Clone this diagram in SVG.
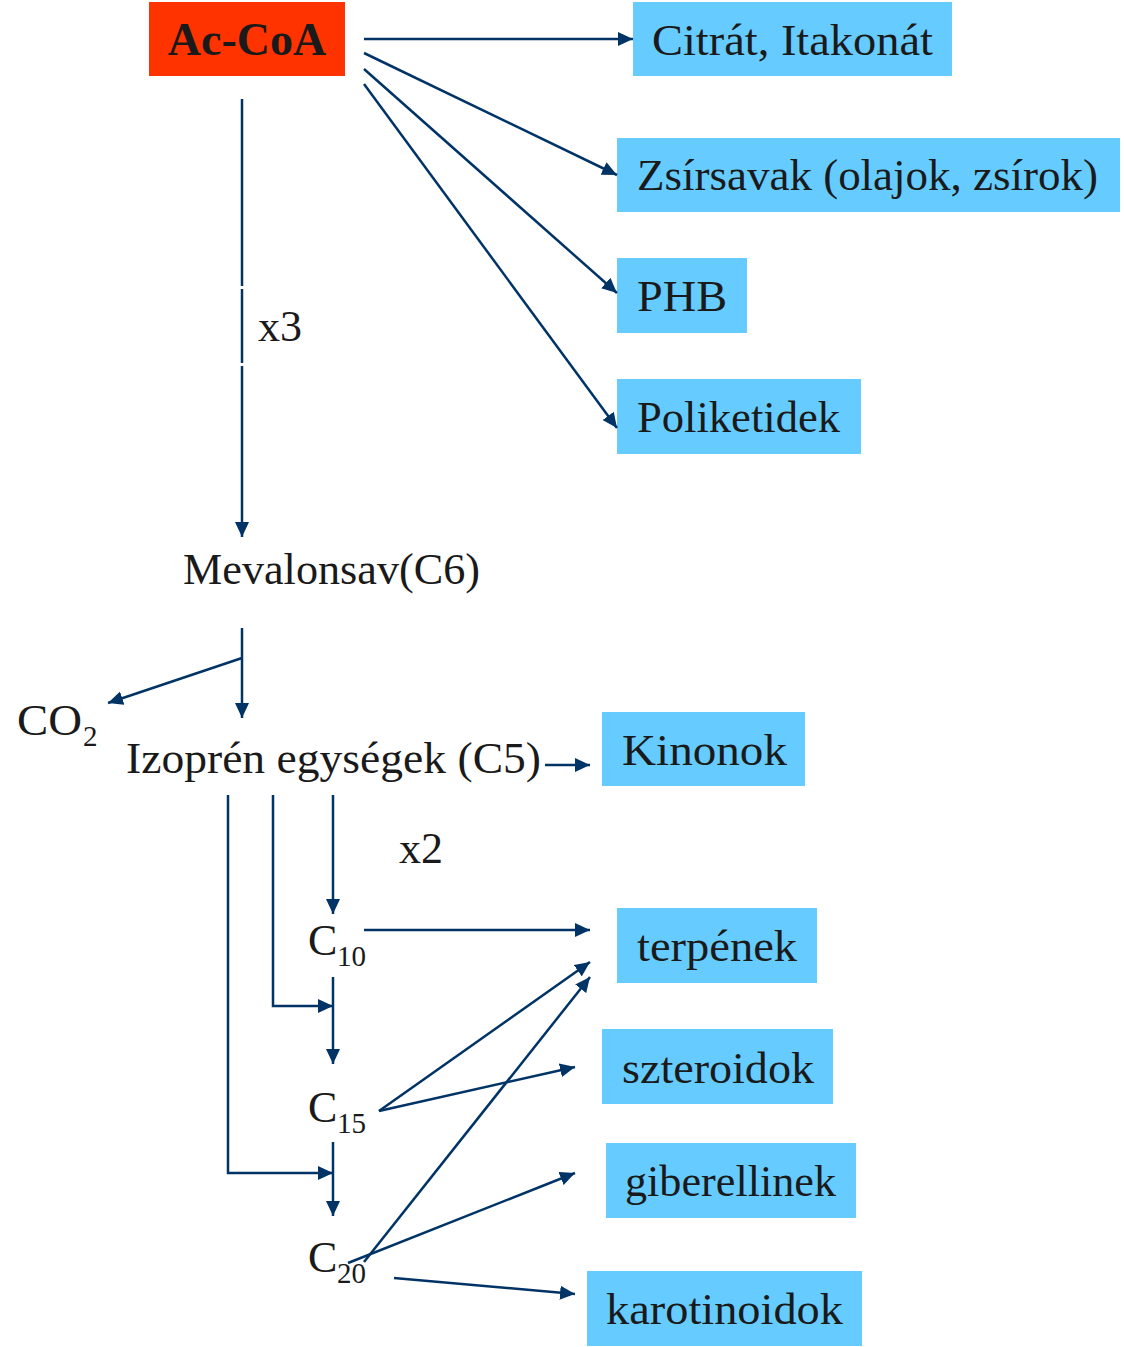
<svg xmlns="http://www.w3.org/2000/svg" width="1124" height="1347" viewBox="0 0 1124 1347">
<defs>
<marker id="ah" markerUnits="userSpaceOnUse" markerWidth="16" markerHeight="14" refX="15" refY="7" orient="auto">
<path d="M0,0 L15,7 L0,14 z" fill="#003366"/>
</marker>
<style>
.t{font-family:"Liberation Serif","Times New Roman",serif;font-size:44px;fill:#1a1a1a}
.s{font-family:"Liberation Serif","Times New Roman",serif;font-size:29px;fill:#1a1a1a}
.b{fill:#66CCFF}
.c{stroke:#003366;stroke-width:2.5;fill:none}
.a{marker-end:url(#ah)}
</style>
</defs>
<rect width="1124" height="1347" fill="#ffffff"/>
<g id="accoa"><rect x="149" y="2" width="196" height="74" fill="#FF3300"/><text x="247" y="55" text-anchor="middle" class="t" style="font-weight:bold;font-size:46px">Ac-CoA</text></g>
<g id="citrat"><rect class="b" x="633" y="2" width="319" height="74"/><text class="t" x="652" y="55" textLength="281" lengthAdjust="spacingAndGlyphs">Citrát, Itakonát</text></g>
<g id="zsirsavak"><rect class="b" x="617" y="138" width="503" height="74"/><text class="t" x="637" y="190" textLength="461" lengthAdjust="spacingAndGlyphs">Zsírsavak (olajok, zsírok)</text></g>
<g id="phb"><rect class="b" x="617" y="258" width="130" height="75"/><text class="t" x="637" y="311" textLength="90" lengthAdjust="spacingAndGlyphs">PHB</text></g>
<g id="poliketidek"><rect class="b" x="617" y="379" width="244" height="75"/><text class="t" x="637" y="432" textLength="203" lengthAdjust="spacingAndGlyphs">Poliketidek</text></g>
<g id="mevalonsav"><text class="t" x="183" y="584" textLength="297" lengthAdjust="spacingAndGlyphs">Mevalonsav(C6)</text></g>
<g id="co2"><text class="t" x="17" y="735" textLength="65" lengthAdjust="spacingAndGlyphs">CO</text><text class="s" x="83" y="746">2</text></g>
<g id="izopren"><text class="t" x="126" y="773" textLength="415" lengthAdjust="spacingAndGlyphs">Izoprén egységek (C5)</text></g>
<g id="kinonok"><rect class="b" x="602" y="712" width="203" height="74"/><text class="t" x="622" y="765" textLength="165" lengthAdjust="spacingAndGlyphs">Kinonok</text></g>
<g id="c10"><text class="t" x="308" y="955">C</text><text class="s" x="337" y="966">10</text></g>
<g id="c15"><text class="t" x="308" y="1122">C</text><text class="s" x="337" y="1133">15</text></g>
<g id="c20"><text class="t" x="308" y="1272">C</text><text class="s" x="337" y="1283">20</text></g>
<g id="terpenek"><rect class="b" x="617" y="908" width="200" height="75"/><text class="t" x="637" y="961" textLength="160" lengthAdjust="spacingAndGlyphs">terpének</text></g>
<g id="szteroidok"><rect class="b" x="602" y="1029" width="231" height="75"/><text class="t" x="622" y="1083" textLength="192" lengthAdjust="spacingAndGlyphs">szteroidok</text></g>
<g id="giberellinek"><rect class="b" x="606" y="1143" width="250" height="75"/><text class="t" x="625" y="1196" textLength="211" lengthAdjust="spacingAndGlyphs">giberellinek</text></g>
<g id="karotinoidok"><rect class="b" x="587" y="1271" width="275" height="75"/><text class="t" x="606" y="1324" textLength="237" lengthAdjust="spacingAndGlyphs">karotinoidok</text></g>
<g id="labels"><text class="t" x="258" y="341">x3</text><text class="t" x="399" y="863">x2</text></g>
<g id="connectors">
<line class="c a" x1="364" y1="39" x2="633" y2="39"/>
<line class="c a" x1="364" y1="53" x2="617" y2="175"/>
<line class="c a" x1="364" y1="69" x2="617" y2="293"/>
<line class="c a" x1="364" y1="84" x2="617" y2="428"/>
<line class="c" x1="242" y1="99" x2="242" y2="286"/>
<line class="c" x1="242" y1="289" x2="242" y2="363"/>
<line class="c a" x1="242" y1="366" x2="242" y2="537"/>
<line class="c a" x1="242" y1="628" x2="242" y2="718"/>
<line class="c a" x1="242" y1="658" x2="108" y2="703"/>
<line class="c a" x1="545" y1="765" x2="590" y2="765"/>
<line class="c a" x1="333" y1="795" x2="333" y2="914"/>
<polyline class="c a" points="273,795 273,1006 333,1006"/>
<polyline class="c a" points="228,795 228,1173 333,1173"/>
<line class="c a" x1="364" y1="930" x2="590" y2="930"/>
<line class="c a" x1="333" y1="977" x2="333" y2="1064"/>
<line class="c a" x1="333" y1="1142" x2="333" y2="1216"/>
<line class="c a" x1="379" y1="1111" x2="590" y2="962"/>
<line class="c a" x1="379" y1="1111" x2="575" y2="1067"/>
<line class="c a" x1="364" y1="1262" x2="590" y2="977"/>
<line class="c a" x1="348" y1="1263" x2="575" y2="1173"/>
<line class="c a" x1="394" y1="1278" x2="575" y2="1294"/>
</g>
</svg>
